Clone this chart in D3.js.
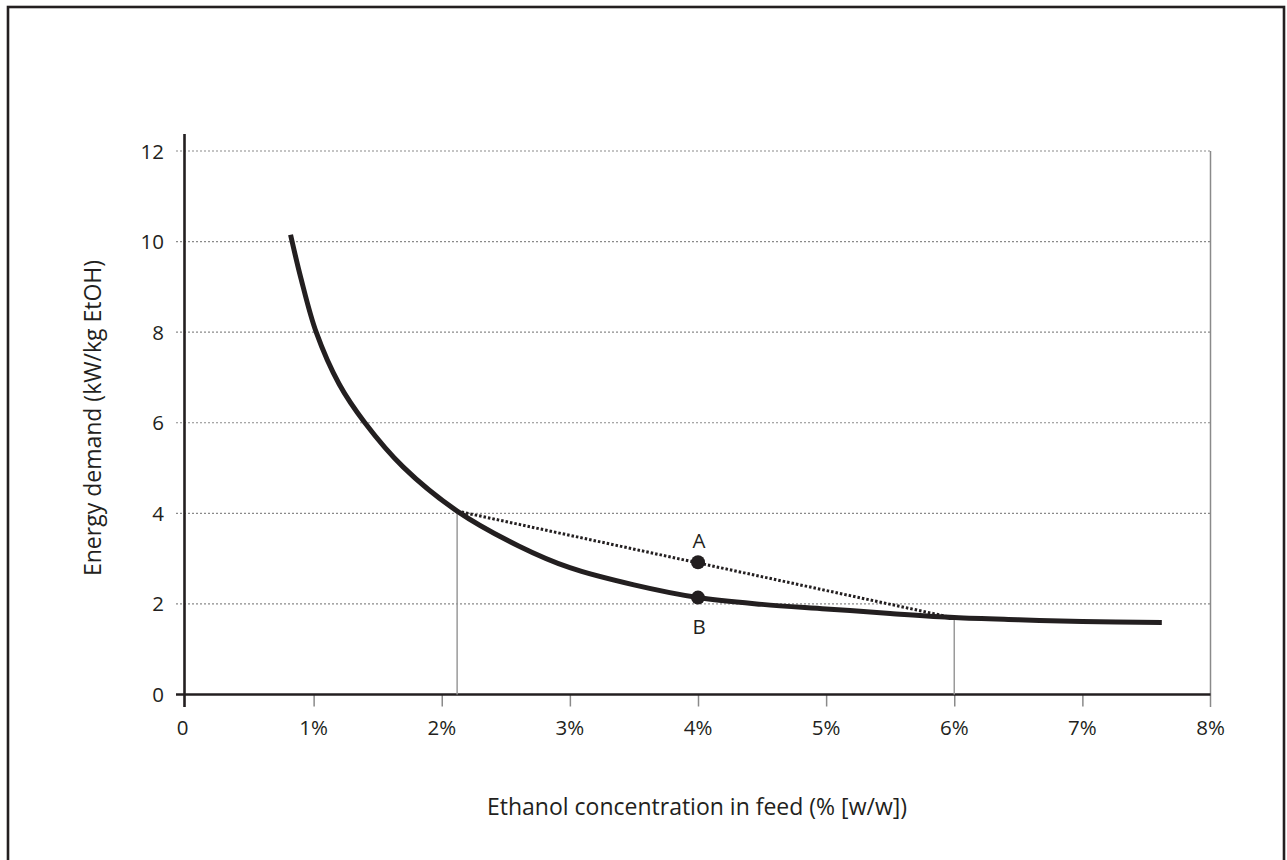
<!DOCTYPE html>
<html>
<head>
<meta charset="utf-8">
<script src="https://cdn.jsdelivr.net/npm/d3@7"></script>
<style>
  html, body { margin: 0; padding: 0; background: #fff; }
  svg { display: block; font-family: "Open Sans", "Noto Sans", sans-serif; }
</style>
</head>
<body>
<svg id="chart" width="1287" height="860"></svg>
<script>
// Energy demand curve versus ethanol concentration in feed
const concentration = [0.82, 0.9, 1.02, 1.2, 1.4, 1.7, 2.12, 2.6, 3.0, 3.5, 4.0, 4.5, 5.0, 5.5, 6.0, 6.5, 7.0, 7.62];
const energyDemand  = [10.15, 9.2, 8.0, 6.85, 6.0, 5.02, 4.05, 3.28, 2.80, 2.42, 2.14, 1.99, 1.89, 1.79, 1.70, 1.65, 1.61, 1.59];

// Mixing line between the two feeds and the resulting points
const mixLineX = [2.12, 5.98];
const mixLineY = [4.05, 1.70];
const pointNames = ["A", "B"];
const pointX = [4.0, 4.0];
const pointY = [2.92, 2.14];

// Reference verticals at the two feed concentrations
const refX = [2.12, 6.0];
const refY = [4.05, 1.70];

const xTicks = [0, 1, 2, 3, 4, 5, 6, 7, 8];
const xTickLabels = ["0", "1%", "2%", "3%", "4%", "5%", "6%", "7%", "8%"];
const yTicks = [0, 2, 4, 6, 8, 10, 12];

const ink = "#231f20";
const svg = d3.select("#chart");

// Outer frame
svg.append("rect")
  .attr("x", 8).attr("y", 7)
  .attr("width", 1276).attr("height", 880)
  .attr("fill", "none").attr("stroke", ink).attr("stroke-width", 2.6);

const x = d3.scaleLinear().domain([0, 8]).range([185.5, 1210.5]);
const y = d3.scaleLinear().domain([0, 12]).range([694.5, 151]);

// Horizontal dotted gridlines (they also serve as y ticks)
svg.append("g")
  .selectAll("line")
  .data(yTicks.filter(d => d > 0))
  .join("line")
  .attr("x1", 176).attr("x2", x(8))
  .attr("y1", d => y(d)).attr("y2", d => y(d))
  .attr("stroke", "#8a8a8a").attr("stroke-width", 1.2)
  .attr("stroke-dasharray", "2,2");

// Right-hand border line of the plot
svg.append("line")
  .attr("x1", x(8)).attr("x2", x(8))
  .attr("y1", y(12)).attr("y2", 707)
  .attr("stroke", "#8a8a8a").attr("stroke-width", 1.5);

// X axis with gray tick marks
const xAxis = d3.axisBottom(x)
  .tickValues(xTicks.slice(1, 8))
  .tickSize(12)
  .tickFormat("");
const gx = svg.append("g").attr("transform", `translate(0,${y(0)})`).call(xAxis);
gx.select(".domain").remove();
gx.selectAll(".tick line").attr("stroke", "#8a8a8a").attr("stroke-width", 1.5);

svg.append("line")
  .attr("x1", 176).attr("x2", x(8))
  .attr("y1", y(0)).attr("y2", y(0))
  .attr("stroke", ink).attr("stroke-width", 2.6);

// Y axis line
svg.append("line")
  .attr("x1", 184.5).attr("x2", 184.5)
  .attr("y1", 134).attr("y2", 707)
  .attr("stroke", ink).attr("stroke-width", 2.6);

// Tick labels
svg.append("g")
  .selectAll("text")
  .data(xTicks)
  .join("text")
  .attr("x", d => d === 0 ? x(d) - 3 : x(d))
  .attr("y", 735)
  .attr("text-anchor", "middle")
  .attr("font-size", 20.5)
  .attr("fill", ink)
  .text((d, i) => xTickLabels[i]);

svg.append("g")
  .selectAll("text")
  .data(yTicks)
  .join("text")
  .attr("x", 164)
  .attr("y", d => y(d) + 7.5)
  .attr("text-anchor", "end")
  .attr("font-size", 20.5)
  .attr("fill", ink)
  .text(d => d);

// Reference verticals
svg.append("g")
  .selectAll("line")
  .data(refX)
  .join("line")
  .attr("x1", d => x(d)).attr("x2", d => x(d))
  .attr("y1", (d, i) => y(refY[i])).attr("y2", y(0))
  .attr("stroke", "#9a9a9a").attr("stroke-width", 1.5);

// Mixing line (dotted)
svg.append("line")
  .attr("x1", x(mixLineX[0])).attr("y1", y(mixLineY[0]))
  .attr("x2", x(mixLineX[1])).attr("y2", y(mixLineY[1]))
  .attr("stroke", ink).attr("stroke-width", 3)
  .attr("stroke-dasharray", "2.5,2");

// Energy demand curve
const line = d3.line()
  .x((d, i) => x(concentration[i]))
  .y(d => y(d))
  .curve(d3.curveCatmullRom.alpha(0.5));
svg.append("path")
  .attr("d", line(energyDemand))
  .attr("fill", "none")
  .attr("stroke", ink)
  .attr("stroke-width", 5);

// Points A and B
svg.append("g")
  .selectAll("circle")
  .data(pointY)
  .join("circle")
  .attr("cx", (d, i) => x(pointX[i]))
  .attr("cy", d => y(d))
  .attr("r", 7)
  .attr("fill", ink);

svg.append("g")
  .selectAll("text")
  .data(pointNames)
  .join("text")
  .attr("x", (d, i) => x(pointX[i]) + 1)
  .attr("y", (d, i) => i === 0 ? y(pointY[i]) - 14 : y(pointY[i]) + 36)
  .attr("text-anchor", "middle")
  .attr("font-size", 20.5)
  .attr("fill", ink)
  .text(d => d);

// Axis titles
svg.append("text")
  .attr("x", 697).attr("y", 815)
  .attr("text-anchor", "middle")
  .attr("font-size", 23)
  .attr("fill", ink)
  .text("Ethanol concentration in feed (% [w/w])");

svg.append("text")
  .attr("transform", "translate(101,418) rotate(-90)")
  .attr("text-anchor", "middle")
  .attr("font-size", 23)
  .attr("fill", ink)
  .text("Energy demand (kW/kg EtOH)");
</script>
</body>
</html>
